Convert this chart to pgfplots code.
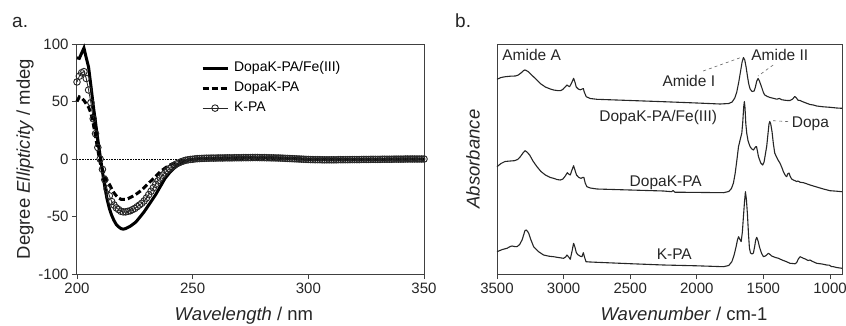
\documentclass[border=0pt]{standalone}
\usepackage{fontspec}
\setmainfont{Liberation Sans}
\usepackage{pgfplots}
\pgfplotsset{compat=1.18}
\usetikzlibrary{calc}
\tikzset{annot/.style={font=\fontsize{15.5}{18}\selectfont, text=black!85, anchor=base, inner sep=0pt},
  ir/.style={black!85, line width=1.1pt, line join=round, mark=none}}
\pgfplotsset{
  common/.style={
    scale only axis, height=230pt,
    axis line style={line width=1pt, black!75},
    tick style={line width=0.9pt, black!75},
    tick align=outside, major tick length=5pt,
    xtick pos=left, ytick pos=left,
    /pgf/number format/assume math mode=true,
    /pgf/number format/1000 sep={},
    tick label style={font=\fontsize{15}{18}\selectfont, text=black!85},
    label style={font=\fontsize{18.5}{22}\selectfont, text=black!85},
    clip=false,
  }
}
\begin{document}
\begin{tikzpicture}
\useasboundingbox (0,0) rectangle (846pt,325pt);
\node[anchor=base west, font=\fontsize{19}{22}\selectfont, inner sep=0pt, text=black!85] at (12pt,298pt) {a.};
\node[anchor=base west, font=\fontsize{19}{22}\selectfont, inner sep=0pt, text=black!85] at (455pt,298pt) {b.};

\begin{axis}[common,
  at={(77pt,51pt)}, anchor=south west, width=347pt,
  xmin=200, xmax=350, ymin=-100, ymax=100,
  xtick={200,250,300,350}, ytick={-100,-50,0,50,100},
  xlabel={\textit{Wavelength} / nm},
  ylabel={Degree \textit{Ellipticity} / mdeg},
  xlabel style={at={(rel axis cs:0.481,0)}, anchor=base, yshift=-46pt},
  ylabel style={at={($(rel axis cs:0,0.5)+(-52pt,0pt)$)}, anchor=center},
  reverse legend,
  legend cell align=left,
  legend image code/.code={\draw[mark repeat=2,mark phase=2,#1] plot coordinates {(0pt,0pt) (12.5pt,0pt) (25pt,0pt)};},
  legend style={at={(rel axis cs:0.357,0.933)}, anchor=north west, draw=none, fill=none,
    font=\fontsize{14}{16}\selectfont, row sep=3pt, column sep=3pt, inner sep=0pt,
    nodes={inner sep=2pt, text height=10pt, text depth=3pt}},
]
\addplot[black, densely dotted, line width=0.6pt, forget plot] coordinates {(200,0) (350,0)};
% K-PA
\addplot[black!85, line width=0.8pt, mark=o, mark size=3.3pt, mark options={solid, line width=0.9pt}] coordinates {
(200,67) (201,72) (202,75) (203,76) (204,70) (205,60) (206,49) (207,35) (208,22) (209,10)
(210,0) (211,-9) (212,-18) (213,-26) (214,-32) (215,-37) (216,-40) (217,-42.5) (218,-44) (219,-45.5)
(220,-46) (221,-46) (222,-45.5) (223,-45) (224,-44) (225,-43) (226,-41.5) (227,-40) (228,-38.5) (229,-36.5)
(230,-34) (231,-31) (232,-28) (233,-25) (234,-22) (235,-19) (236,-16.5) (237,-14) (238,-12) (239,-10)
(240,-8.3) (241,-6.8) (242,-5.5) (243,-4.3) (244,-3.3) (245,-2.4) (246,-1.7) (247,-1.1) (248,-0.7) (249,-0.4)
(250,-0.2) (251,0.1) (252,0.3) (253,0.4) (254,0.5) (255,0.6) (256,0.7) (257,0.7) (258,0.8) (259,0.8)
(260,0.8) (261,0.9) (262,0.9) (263,0.9) (264,1.0) (265,1.0) (266,1.0) (267,1.0) (268,1.1) (269,1.1)
(270,1.1) (271,1.1) (272,1.2) (273,1.2) (274,1.2) (275,1.2) (276,1.3) (277,1.3) (278,1.3) (279,1.2)
(280,1.2) (281,1.2) (282,1.1) (283,1.1) (284,1.0) (285,1.0) (286,0.9) (287,0.9) (288,0.8) (289,0.7)
(290,0.6) (291,0.5) (292,0.4) (293,0.3) (294,0.2) (295,0.1) (296,0.0) (297,-0.1) (298,-0.2) (299,-0.3)
(300,-0.4) (301,-0.5) (302,-0.5) (303,-0.6) (304,-0.6) (305,-0.6) (306,-0.7) (307,-0.7) (308,-0.7) (309,-0.7)
(310,-0.7) (311,-0.7) (312,-0.7) (313,-0.6) (314,-0.6) (315,-0.6) (316,-0.6) (317,-0.6) (318,-0.5) (319,-0.5)
(320,-0.5) (321,-0.5) (322,-0.5) (323,-0.4) (324,-0.4) (325,-0.4) (326,-0.4) (327,-0.3) (328,-0.3) (329,-0.3)
(330,-0.3) (331,-0.3) (332,-0.2) (333,-0.2) (334,-0.2) (335,-0.2) (336,-0.2) (337,-0.1) (338,-0.1) (339,-0.1)
(340,-0.1) (341,-0.1) (342,0.0) (343,0.0) (344,0.0) (345,0.0) (346,0.0) (347,0.0) (348,0.0) (349,0.0) (350,0.0)
};
\addlegendentry{K-PA}
% DopaK-PA
\addplot[black, line width=3pt, dash pattern=on 6pt off 3pt] coordinates {
(200,50) (201,54) (202,53) (203,51) (204,48) (205,45) (206,40) (207,31) (208,20) (209,8)
(210,-3) (211,-9) (212,-15) (213,-19) (214,-22) (215,-26) (216,-29.5) (217,-32) (218,-34) (219,-35)
(220,-35) (221,-35) (222,-34.5) (223,-33.5) (224,-32.5) (225,-31.3) (226,-30) (227,-28.5) (228,-27) (229,-25)
(230,-23) (231,-21) (232,-19) (233,-17) (234,-15) (235,-13) (236,-11) (237,-9.5) (238,-8) (239,-6.6)
(240,-5.4) (242,-3.5) (244,-2.2) (246,-1.2) (248,-0.6) (250,-0.2) (255,0.4) (270,0.9) (285,1.0) (300,-0.3)
(320,-0.5) (335,-0.2) (350,0)
};
\addlegendentry{DopaK-PA}
% DopaK-PA/Fe(III)
\addplot[black, line width=3pt] coordinates {
(200,88) (201,87.5) (202,92) (203,96.5) (204,88) (205,80) (206,64) (207,47) (208,32) (209,17)
(210,3) (211,-11) (212,-24) (213,-35) (214,-43) (215,-49) (216,-53.5) (217,-57) (218,-59) (219,-60.5)
(220,-61) (221,-60.5) (222,-59.5) (223,-58.5) (224,-57) (225,-55.5) (226,-53.5) (227,-51) (228,-48.5) (229,-46)
(230,-43) (231,-40) (232,-37) (233,-34) (234,-31) (235,-27.5) (236,-24) (237,-20.5) (238,-17) (239,-14.5)
(240,-12) (241,-10) (242,-8) (243,-6.3) (244,-4.8) (245,-3.5) (246,-2.5) (247,-1.7) (248,-1.1) (249,-0.6)
(250,-0.3) (252,0) (260,0.6) (275,1.1) (290,0.8) (300,-0.3) (320,-0.6) (335,-0.2) (350,0)
};
\addlegendentry{DopaK-PA/Fe(III)}
\end{axis}

\begin{axis}[common,
  at={(497pt,51pt)}, anchor=south west, width=345pt,
  x dir=reverse, xmin=910, xmax=3500, ymin=0, ymax=230,
  xtick={1000,1500,2000,2500,3000,3500}, ytick=\empty,
  xlabel={\textit{Wavenumber} / cm-1},
  ylabel={\textit{Absorbance}},
  xlabel style={at={(rel axis cs:0.542,0)}, anchor=base, yshift=-46pt},
  ylabel style={at={($(rel axis cs:0,0.5)+(-24pt,0pt)$)}, anchor=center},
]
% DopaK-PA/Fe(III)
\addplot[ir] coordinates {
(3500,194.7) (3470,196.5) (3437,197.3) (3400,197.8) (3362,198) (3340,199) (3320,201) (3300,203.5) (3290,204)
(3280,203.5) (3262,202) (3240,199) (3200,194) (3170,190) (3137,187) (3100,185) (3075,184) (3040,183.3)
(3020,183.5) (3005,184.7) (2985,187.5) (2975,189) (2965,188) (2955,187.3) (2940,191) (2925,195.7) (2915,192)
(2905,187) (2890,185) (2875,184.2) (2860,185) (2852,185.5) (2845,182) (2830,177.3) (2800,175.5) (2750,174.7)
(2500,173.5) (2250,172.3) (2000,171) (1825,170) (1760,170.5) (1735,172) (1715,176) (1700,182) (1685,192)
(1670,204) (1660,212) (1650,216.5) (1640,214) (1630,207) (1620,198) (1610,190) (1600,185) (1585,182.5)
(1570,183) (1560,187) (1550,193) (1540,195.5) (1530,193) (1515,187.5) (1500,181.5) (1490,179) (1470,177.5)
(1450,176.5) (1420,175.5) (1400,174.8) (1380,175.5) (1360,174.2) (1340,173.8) (1320,173.5) (1300,173.5)
(1280,175) (1265,177.5) (1255,176.5) (1240,173.8) (1225,173.5) (1200,172) (1180,171) (1150,169.5) (1125,169)
(1100,168) (1050,167.2) (1000,166.7) (950,166) (910,165.7)
};
% DopaK-PA
\addplot[ir] coordinates {
(3500,107.3) (3470,110.5) (3440,112.5) (3400,113) (3370,113.3) (3345,114.5) (3325,117.3) (3305,121) (3290,123.3)
(3275,122) (3255,119) (3230,113) (3200,107.3) (3170,102.5) (3137,99) (3100,96.5) (3075,95.7) (3050,94.5)
(3025,94) (3005,95) (2990,97.5) (2972,101.3) (2962,100) (2950,99) (2940,103) (2925,108.3) (2915,104)
(2903,99) (2885,96.5) (2870,95.7) (2857,96.5) (2848,96.7) (2838,91) (2825,87.3) (2800,86) (2750,85)
(2500,84) (2250,83) (2190,82.3) (2178,83.5) (2165,81.8) (2000,81.6) (1800,81.3) (1760,82.5) (1740,85.5)
(1725,91) (1712,100.7) (1700,113) (1687,127.3) (1675,134) (1662,141) (1655,152) (1648,167) (1643,172.5)
(1638,166) (1632,150) (1625,140.7) (1615,133) (1600,127.3) (1588,125.2) (1575,124) (1560,127) (1552,127.5)
(1545,123) (1537,117.3) (1520,111) (1505,109) (1495,112) (1485,120) (1475,128) (1465,141) (1458,150)
(1452,152.5) (1445,150) (1435,142) (1425,130) (1415,121) (1405,118) (1390,114) (1375,110.7) (1360,106)
(1350,102.3) (1335,98.5) (1325,97.3) (1318,100) (1308,101) (1300,98) (1288,95) (1275,94) (1250,92.5)
(1240,93) (1225,91.8) (1200,91.3) (1175,90.2) (1150,89) (1100,87) (1050,85) (1000,83.3) (950,82.8) (910,82.3)
};
% K-PA
\addplot[ir] coordinates {
(3500,22.3) (3460,24.5) (3425,25.7) (3400,27.5) (3387,28) (3370,27.5) (3350,27.3) (3330,29.5) (3312,34)
(3300,39) (3290,43.5) (3280,44) (3270,42.5) (3262,40.7) (3245,34) (3225,27.3) (3190,22.5) (3150,19)
(3110,17.8) (3075,17.3) (3040,16.5) (3000,15.7) (2985,17) (2975,19) (2962,17) (2950,14.7) (2938,22)
(2925,30.7) (2915,27) (2905,21.5) (2895,19.5) (2875,17.8) (2862,17.3) (2852,21.3) (2843,17) (2832,12.3)
(2800,12) (2750,11.7) (2500,10.3) (2250,9) (2000,8.2) (1800,7.3) (1760,8.5) (1737,12.3) (1720,19)
(1705,27.3) (1695,34) (1687,37.3) (1678,35) (1667,32.3) (1658,42) (1650,57.3) (1642,72) (1635,82.3)
(1628,75) (1620,60) (1612,40) (1605,26) (1597,21) (1585,20) (1575,21) (1565,28) (1558,34) (1550,36.7)
(1540,33) (1530,27.3) (1515,21) (1500,17.3) (1485,18) (1472,19.5) (1462,20.7) (1450,19.5) (1438,18)
(1425,17.3) (1410,16.5) (1387,15.7) (1360,14) (1330,12.5) (1300,10.7) (1280,10.5) (1262,10.2) (1250,11.5)
(1238,15) (1225,17.3) (1212,16.5) (1200,15.7) (1185,15) (1165,13.5) (1150,14) (1135,12.8) (1100,10.7)
(1060,10) (1025,9) (1005,8.8) (990,7.5) (975,7.3) (950,6.5) (910,5.7)
};
\draw[black!60, dashed, line width=0.6pt] (axis cs:1952,203) -- (axis cs:1665,216.7);
\draw[black!60, dashed, line width=0.6pt] (axis cs:1427,209) -- (axis cs:1540,198);
\draw[black!60, dashed, line width=0.6pt] (axis cs:1427,153.3) -- (axis cs:1302,152.3);
\node[annot] at (axis cs:3240,213.5) {Amide A};
\node[annot] at (axis cs:2060,188) {Amide I};
\node[annot] at (axis cs:1377,213.5) {Amide II};
\node[annot] at (axis cs:2290,152.2) {DopaK-PA/Fe(III)};
\node[annot] at (axis cs:1147,146.8) {Dopa};
\node[annot] at (axis cs:2233,88) {DopaK-PA};
\node[annot] at (axis cs:2169,14.7) {K-PA};
\end{axis}
\end{tikzpicture}
\end{document}
